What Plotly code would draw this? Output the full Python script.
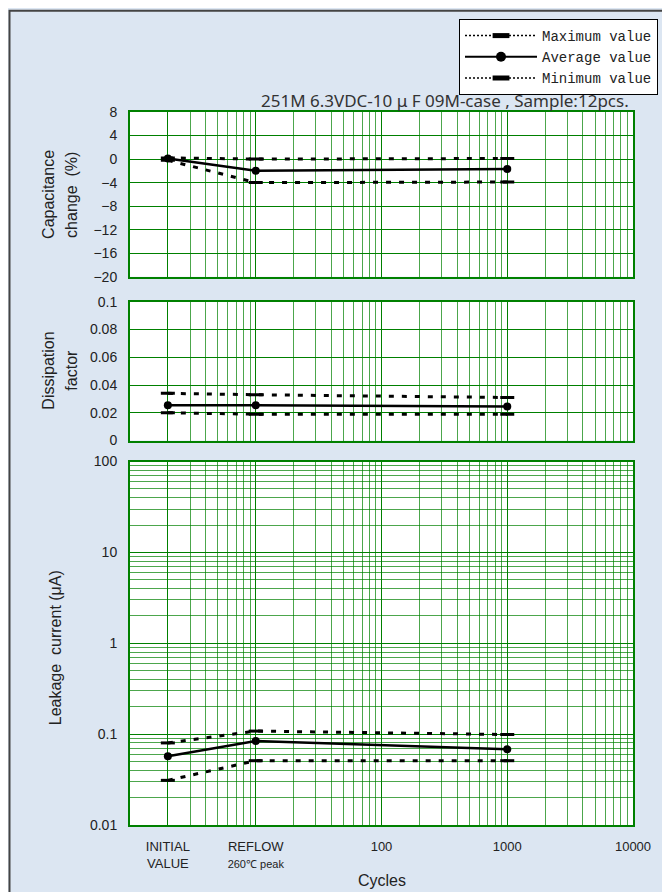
import plotly.graph_objects as go

# ---------------- data ----------------
cycles = [2, 10, 1000]
x_tickvals = [2, 10, 100, 1000, 10000]
x_ticktext = ["INITIAL<br>VALUE",
              "REFLOW<br><span style='font-size:11px'>260℃ peak</span>",
              "100", "1000", "10000"]

cap_max = [0.2, 0.0, 0.1]
cap_avg = [0.1, -2.0, -1.7]
cap_min = [-0.2, -4.0, -3.9]

df_max = [0.034, 0.033, 0.031]
df_avg = [0.0255, 0.0255, 0.0245]
df_min = [0.020, 0.019, 0.019]

lc_max = [0.080, 0.108, 0.099]
lc_avg = [0.057, 0.084, 0.068]
lc_min = [0.031, 0.051, 0.051]

series_names = ["Maximum value", "Average value", "Minimum value"]

# ---------------- layout helpers ----------------
W, H = 670, 892
L, R, T, B = 122, 625, 103, 817


def px_x(px):
    return (px - L) / (R - L)


def px_y(py):
    return (B - py) / (B - T)


GREEN = "#008000"
MINOR = "rgba(0,128,0,0.7)"
TXT = "#222222"
FONT = "Liberation Sans, Arial, sans-serif"

fig = go.Figure()

panels = [
    ("x", "y", cap_max, cap_avg, cap_min),
    ("x2", "y2", df_max, df_avg, df_min),
    ("x3", "y3", lc_max, lc_avg, lc_min),
]

dash_line = dict(color="black", width=3, dash="5px,8px")
dash_marker = dict(symbol="line-ew", size=10, line=dict(width=3, color="black"))

for xa, ya, vmax, vavg, vmin in panels:
    fig.add_trace(go.Scatter(
        x=cycles, y=vmax, xaxis=xa, yaxis=ya, name=series_names[0],
        mode="lines+markers", showlegend=False,
        line=dash_line, marker=dash_marker,
    ))
    fig.add_trace(go.Scatter(
        x=cycles, y=vavg, xaxis=xa, yaxis=ya, name=series_names[1],
        mode="lines+markers", showlegend=False,
        line=dict(color="black", width=2.5),
        marker=dict(symbol="circle", size=8, color="black"),
    ))
    fig.add_trace(go.Scatter(
        x=cycles, y=vmin, xaxis=xa, yaxis=ya, name=series_names[2],
        mode="lines+markers", showlegend=False,
        line=dash_line, marker=dash_marker,
    ))

# legend-only entries (sample styling like the original legend)
leg_dot = dict(color="black", width=1.5, dash="2px,2px")
leg_rect = dict(symbol="line-ew", size=12, line=dict(width=5, color="black"))
fig.add_trace(go.Scatter(x=[None], y=[None], name=series_names[0], mode="lines+markers",
                         line=leg_dot, marker=leg_rect, showlegend=True))
fig.add_trace(go.Scatter(x=[None], y=[None], name=series_names[1], mode="lines+markers",
                         line=dict(color="black", width=2),
                         marker=dict(symbol="circle", size=10, color="black"),
                         showlegend=True))
fig.add_trace(go.Scatter(x=[None], y=[None], name=series_names[2], mode="lines+markers",
                         line=leg_dot, marker=leg_rect, showlegend=True))

x_minor_vals = [k * 10 ** d for d in range(0, 4) for k in range(2, 10)]
y_minor_vals = [k * 10.0 ** d for d in range(-2, 2) for k in range(2, 10)]

xcommon = dict(
    type="log", range=[0, 4], tickmode="array", tickvals=x_tickvals,
    showgrid=True, gridcolor=GREEN, gridwidth=1,
    minor=dict(tickmode="array", tickvals=x_minor_vals, showgrid=True,
               gridcolor=MINOR, gridwidth=1, ticks=""),
    showline=True, linecolor=GREEN, linewidth=2, mirror=True,
    zeroline=False, ticks="outside", ticklen=8, tickcolor="rgba(0,0,0,0)",
)

ycommon = dict(
    showgrid=True, gridcolor=GREEN, gridwidth=1,
    showline=True, linecolor=GREEN, linewidth=2, mirror=True,
    zeroline=False, ticks="outside", ticklen=8, tickcolor="rgba(0,0,0,0)",
    tickfont=dict(family=FONT, size=14, color=TXT),
)

d1 = [px_y(268), 1.0]
d2 = [px_y(432), px_y(293)]
d3 = [0.0, px_y(453)]

fig.update_layout(
    width=W, height=H,
    margin=dict(l=L, r=W - R, t=T, b=H - B, pad=0),
    paper_bgcolor="#DCE6F2", plot_bgcolor="white",
    font=dict(family=FONT, color=TXT),
    xaxis=dict(**xcommon, anchor="y", showticklabels=False),
    xaxis2=dict(**xcommon, anchor="y2", showticklabels=False),
    xaxis3=dict(**xcommon, anchor="y3", ticktext=x_ticktext,
                tickfont=dict(family=FONT, size=13, color=TXT)),
    yaxis=dict(**ycommon, domain=d1, range=[-20, 8], dtick=4, tick0=0),
    yaxis2=dict(**ycommon, domain=d2, range=[0, 0.1], dtick=0.02, tick0=0),
    yaxis3=dict(**ycommon, domain=d3, type="log", range=[-2, 2], dtick=1,
                minor=dict(tickmode="array", tickvals=y_minor_vals, showgrid=True,
                           gridcolor=MINOR, gridwidth=1, ticks="")),
    legend=dict(
        x=px_x(451), y=px_y(11), xanchor="left", yanchor="top",
        bgcolor="white", bordercolor="black", borderwidth=1,
        font=dict(family="Liberation Mono, DejaVu Sans Mono, monospace", size=14, color=TXT),
        itemwidth=72, traceorder="normal", tracegroupgap=0,
    ),
    showlegend=True,
)

annotations = [
    dict(text="251M 6.3VDC-10 μ F 09M-case , Sample:12pcs.",
         x=px_x(623), y=px_y(91), xanchor="right", yanchor="middle",
         font=dict(family="Noto Sans, sans-serif", size=17, color="#333333")),
    dict(text="Capacitance", x=px_x(41), y=px_y(186), textangle=-90,
         xanchor="center", yanchor="middle", font=dict(size=16, color=TXT)),
    dict(text="change  (%)", x=px_x(64), y=px_y(186), textangle=-90,
         xanchor="center", yanchor="middle", font=dict(size=16, color=TXT)),
    dict(text="Dissipation", x=px_x(41), y=px_y(362), textangle=-90,
         xanchor="center", yanchor="middle", font=dict(size=16, color=TXT)),
    dict(text="factor", x=px_x(64), y=px_y(362), textangle=-90,
         xanchor="center", yanchor="middle", font=dict(size=16, color=TXT)),
    dict(text="Leakage  current (μA)", x=px_x(47), y=px_y(640), textangle=-90,
         xanchor="center", yanchor="middle", font=dict(size=16, color=TXT)),
    dict(text="Cycles", x=px_x(373.5), y=px_y(873),
         xanchor="center", yanchor="middle", font=dict(size=16, color=TXT)),
]
for a in annotations:
    a.update(xref="paper", yref="paper", showarrow=False)
fig.update_layout(annotations=annotations)

fig.add_shape(type="rect", xref="paper", yref="paper",
              x0=px_x(1.5), x1=px_x(668.5), y0=px_y(890.5), y1=px_y(1.5),
              line=dict(color="#444444", width=2), fillcolor="rgba(0,0,0,0)",
              layer="above")

fig.write_html("out.html")
